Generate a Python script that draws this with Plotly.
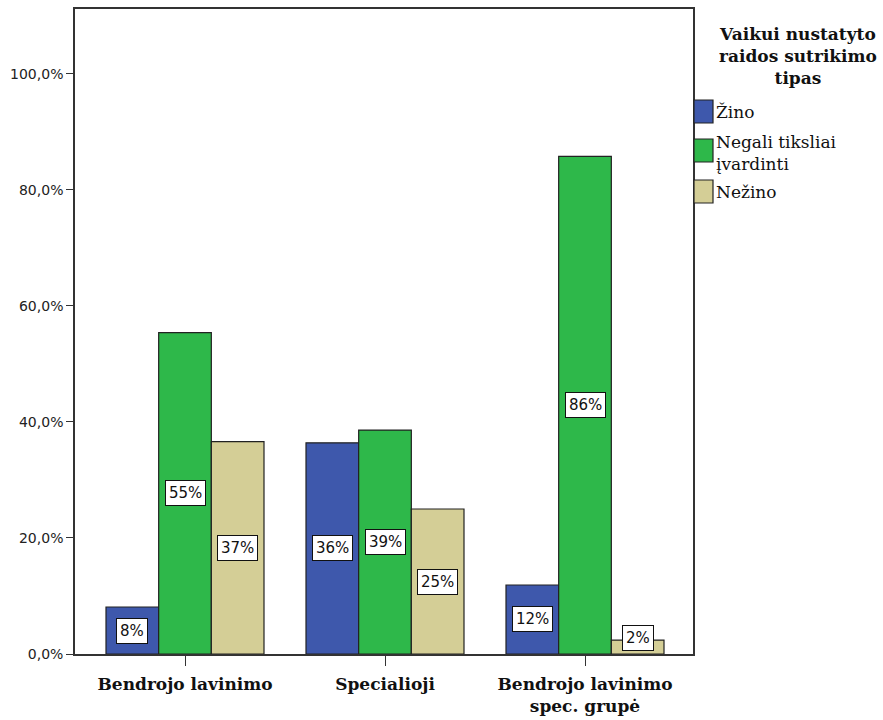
import plotly.graph_objects as go

# Grouped percentages by school type and awareness of the disorder type
categories = ["Bendrojo lavinimo", "Specialioji", "Bendrojo lavinimo<br>spec. grupė"]
series_names = ["Žino", "Negali tiksliai<br>įvardinti", "Nežino"]
zino = [8.1, 36.4, 11.9]
negali = [55.4, 38.6, 85.8]
nezino = [36.6, 25.0, 2.4]
series_values = [zino, negali, nezino]
colors = ["#3E58AC", "#2EB84A", "#D4CE96"]
y_ticks = [0, 20, 40, 60, 80, 100]
y_tick_text = ["0,0%", "20,0%", "40,0%", "60,0%", "80,0%", "100,0%"]
legend_title = "Vaikui nustatyto<br>raidos sutrikimo<br>tipas"

SERIF = "DejaVu Serif"
SANS = "DejaVu Sans"

W, H = 883, 720
L, R, T, B = 75, 190, 9, 66
PW, PH = W - L - R, H - T - B


def px_x(px):
    return (px - L) / PW


def px_y(py):
    return (H - B - py) / PH


fig = go.Figure()
for name, vals, col in zip(series_names, series_values, colors):
    fig.add_trace(go.Bar(
        x=list(range(len(categories))), y=vals, name=name,
        marker=dict(color=col, line=dict(color="#222222", width=1.2)),
        showlegend=False, hoverinfo="skip",
    ))

bargap = 0.21
bw = (1 - bargap) / len(series_values)
annotations = []
for si, vals in enumerate(series_values):
    off = (si - 1) * bw
    for ci, v in enumerate(vals):
        annotations.append(dict(
            x=ci + off, y=max(v / 2, 2.8), xref="x", yref="y",
            text=f"{v:.0f}%", showarrow=False,
            font=dict(family=SANS, size=15, color="#111111"),
            bgcolor="white", bordercolor="#111111", borderwidth=1, borderpad=3,
        ))

# Legend block drawn beside the plot frame
annotations.append(dict(
    x=px_x(798), y=px_y(56), xref="paper", yref="paper",
    text="<b>" + legend_title + "</b>", showarrow=False, align="center",
    font=dict(family=SERIF, size=17, color="#111111"),
    xanchor="center", yanchor="middle",
))
shapes = []
swatch_top = [100, 139, 180]
label_y = [112, 153, 192]
for name, col, ty, ly in zip(series_names, colors, swatch_top, label_y):
    shapes.append(dict(
        type="rect", xref="paper", yref="paper",
        x0=px_x(694), x1=px_x(713), y0=px_y(ty), y1=px_y(ty + 23),
        fillcolor=col, line=dict(color="#222222", width=1.2),
    ))
    annotations.append(dict(
        x=px_x(714), y=px_y(ly), xref="paper", yref="paper",
        text=name, showarrow=False, align="left",
        xanchor="left", yanchor="middle",
        font=dict(family=SERIF, size=17, color="#111111"),
    ))

fig.update_layout(
    width=W, height=H,
    margin=dict(l=L, r=R, t=T, b=B),
    paper_bgcolor="white", plot_bgcolor="white",
    barmode="group", bargap=bargap, bargroupgap=0,
    annotations=annotations, shapes=shapes,
    xaxis=dict(
        range=[-0.55, 2.54], tickmode="array", automargin=False,
        tickvals=list(range(len(categories))), ticktext=["<b>" + c + "</b>" for c in categories],
        tickfont=dict(family=SERIF, size=17, color="#111111"),
        ticks="outside", ticklen=10, tickcolor="#333333", tickwidth=1.2,
        ticklabelstandoff=4,
        showline=True, linecolor="#333333", linewidth=1.5, mirror=True,
        showgrid=False, zeroline=False,
    ),
    yaxis=dict(
        range=[0, 111.2], tickmode="array", tickvals=y_ticks, ticktext=y_tick_text,
        automargin=False,
        tickfont=dict(family=SANS, size=14, color="#222222"),
        ticks="outside", ticklen=7, tickcolor="#333333", tickwidth=1.2,
        showline=True, linecolor="#333333", linewidth=1.5, mirror=True,
        showgrid=False, zeroline=False,
    ),
)

fig.write_html("out.html")
